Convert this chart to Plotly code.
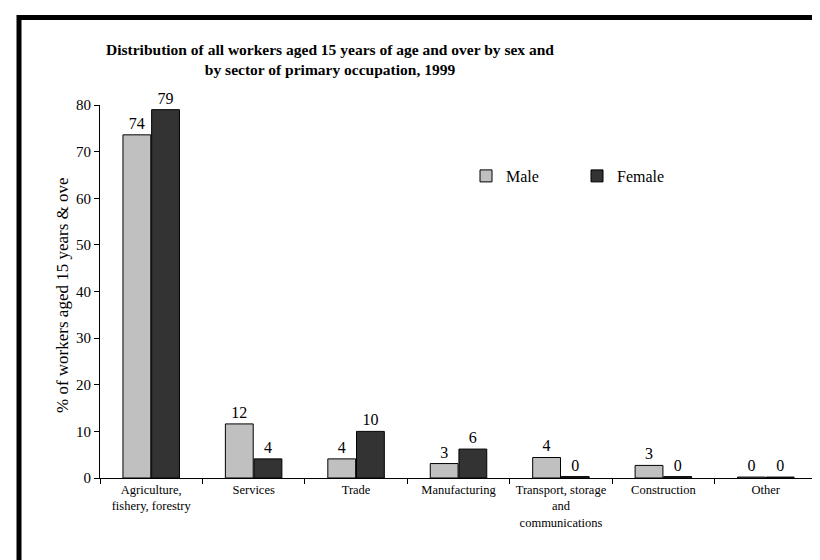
import plotly.graph_objects as go

categories = ["Agriculture,<br>fishery, forestry", "Services", "Trade", "Manufacturing",
              "Transport, storage<br>and<br>communications", "Construction", "Other"]
male = [73.6, 11.6, 4.1, 3.1, 4.4, 2.7, 0.2]
female = [79.0, 4.1, 10.0, 6.2, 0.3, 0.3, 0.2]

W, H = 820, 560
L, R, T, B = 92, 11, 97, 90
pw, ph = W - L - R, H - T - B

def px(x):
    return (x - L) / pw

def py(y):
    return (H - B - y) / ph

serif = "Liberation Serif, Times New Roman, serif"

fig = go.Figure()
fig.add_trace(go.Bar(name="Male", x=categories, y=male,
                     marker=dict(color="#C0C0C0", line=dict(color="black", width=1)),
                     texttemplate="%{y:.0f}", textposition="outside",
                     textfont=dict(family=serif, size=16, color="black"), cliponaxis=False))
fig.add_trace(go.Bar(name="Female", x=categories, y=female,
                     marker=dict(color="#333333", line=dict(color="black", width=1)),
                     texttemplate="%{y:.0f}", textposition="outside",
                     textfont=dict(family=serif, size=16, color="black"), cliponaxis=False))

fig.update_layout(
    width=W, height=H,
    margin=dict(l=L, r=R, t=T, b=B, autoexpand=False),
    paper_bgcolor="white", plot_bgcolor="white",
    barmode="group", bargap=0.44, bargroupgap=0.03,
    font=dict(family=serif, size=15, color="black"),
    title=dict(text="<b>Distribution of all workers aged 15 years of age and over by sex and<br>by sector of primary occupation, 1999</b>",
               x=322 / W, xanchor="center", xref="container",
               y=1 - 47 / H, yanchor="top", yref="container",
               font=dict(family=serif, size=15.5, color="black")),
    xaxis=dict(showline=True, linecolor="black", linewidth=1, ticks="outside",
               tickson="boundaries", ticklen=5, tickcolor="black", showgrid=False,
               tickfont=dict(family=serif, size=12.5), tickangle=0),
    yaxis=dict(range=[0, 80], dtick=10, showline=True, linecolor="black", linewidth=1,
               ticks="outside", ticklen=5, tickcolor="black", showgrid=False, zeroline=False,
               tickfont=dict(family=serif, size=15)),
    legend=dict(orientation="h", x=px(458), y=py(168), xanchor="left", yanchor="middle",
                font=dict(family=serif, size=16), bgcolor="rgba(0,0,0,0)",
                entrywidth=66, entrywidthmode="pixels"),
    showlegend=True,
)

fig.add_annotation(text="% of workers aged 15 years & ove", textangle=-90,
                   xref="paper", yref="paper", x=px(54), y=py(287),
                   xanchor="center", yanchor="middle", showarrow=False,
                   font=dict(family=serif, size=17, color="black"))

fig.add_shape(type="rect", xref="paper", yref="paper",
              x0=px(11), x1=px(817), y0=py(580), y1=py(9.5),
              line=dict(color="black", width=5), fillcolor="rgba(0,0,0,0)", layer="above")

fig.write_html("out.html")
